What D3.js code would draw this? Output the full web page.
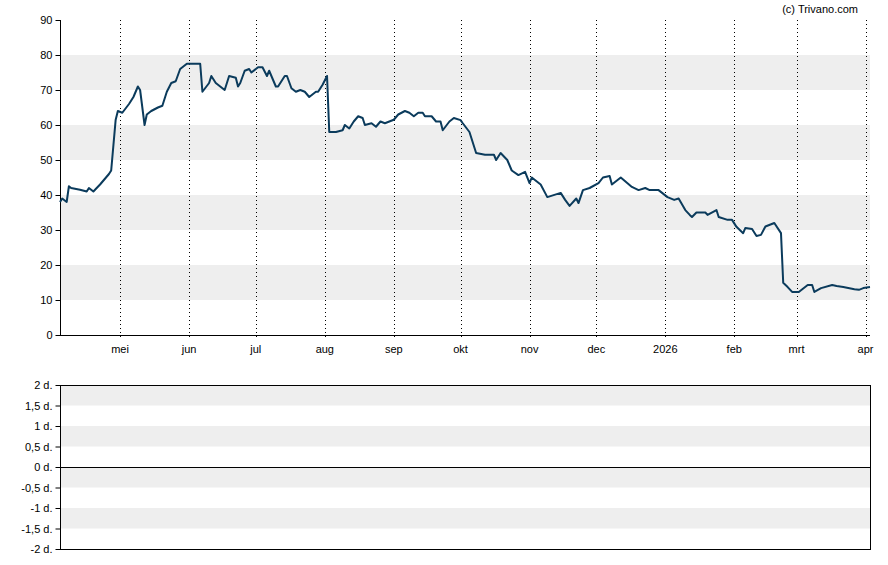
<!DOCTYPE html>
<html>
<head>
<meta charset="utf-8">
<script src="https://cdn.jsdelivr.net/npm/d3@7"></script>
<style>
body { margin: 0; background: #fff; }
text { font-family: "Liberation Sans", Arial, sans-serif; font-size: 11px; fill: #000; }
</style>
</head>
<body>
<svg id="chart" width="888" height="565"></svg>
<script>
// price series: day offset from 2025-04-04, closing value
var startDate = new Date(2025, 3, 4);
var days = [0,1,3,4,5,9,12,13,15,18,20,22,23,25,26,28,31,33,35,36,38,39,41,44,46,48,50,52,54,57,63,64,67,68,70,74,76,79,80,81,83,85,86,89,91,93,94,97,98,101,102,104,106,108,110,112,115,116,118,120,121,124,127,128,130,132,134,136,137,140,142,144,146,150,152,155,157,159,161,163,164,167,169,171,172,175,177,180,181,184,187,191,195,196,198,201,203,206,209,211,212,216,219,225,227,229,232,233,235,238,242,244,247,248,252,257,260,263,265,269,273,276,278,281,283,284,286,290,291,295,296,300,302,304,307,308,311,313,315,317,321,324,325,327,329,332,336,338,339,342,347,349,352,357,359,361,364];
var values = [38,39,38,42.5,42,41.5,41,42,41,43,44.5,46,47,61.4,64,63.5,66,68,71,70,60,63,64,65,65.5,69.5,72,72.5,76,77.5,77.5,69.5,72,74,72,70,74,73.5,71,72,75.5,76,75,76.5,76.5,74,75.5,71,71,74,74,70.5,69.5,70,69.5,68,69.5,69.5,71.5,74,58,58,58.5,60,59,61,62.5,62,60,60.5,59.5,61,60.5,61.5,63,64,63.5,62.5,63.5,63.5,62.5,62.5,61,61,58.5,61,62,61.4,60.5,58,52,51.5,51.5,50,52,50,47,45.7,46.6,43.4,45,43,39.4,40.6,38.6,36.9,39,37.7,41.4,42,43.4,45,45.4,43,45,42.3,41.4,42,41.4,41.4,39.4,38.6,39,35.7,34.3,33.7,35,35,34.3,35.7,33.7,32.9,32.9,30.9,29.1,30.6,30.3,28.3,28.6,31,32,29.1,14.9,13.7,12.3,12.3,14.3,14.3,12.3,13.4,14.3,14,13.7,13.1,12.9,13.4,13.7];
var monthTicks = ["2025-05-01","2025-06-01","2025-07-01","2025-08-01","2025-09-01","2025-10-01","2025-11-01","2025-12-01","2026-01-01","2026-02-01","2026-03-01","2026-04-01"];
var monthLabels = ["mei","jun","jul","aug","sep","okt","nov","dec","2026","feb","mrt","apr"];
var priceTicks = [0,10,20,30,40,50,60,70,80,90];
var lowerTicks = [2,1.5,1,0.5,0,-0.5,-1,-1.5,-2];
var lowerLabels = ["2 d.","1,5 d.","1 d.","0,5 d.","0 d.","-0,5 d.","-1 d.","-1,5 d.","-2 d."];

var svg = d3.select("#chart");
var left = 60, right = 870;
var parse = d3.timeParse("%Y-%m-%d");
var x = d3.scaleTime()
	.domain([startDate, d3.timeDay.offset(startDate, 364)])
	.range([left, right]);
var y = d3.scaleLinear().domain([0, 90]).range([335, 20]);
var y2 = d3.scaleLinear().domain([-2, 2]).range([549, 385]);

var data = days.map(function(d, i) {
	return { date: d3.timeDay.offset(startDate, d), value: values[i] };
});

// grey bands
[10, 30, 50, 70].forEach(function(v) {
	svg.append("rect").attr("x", left).attr("width", right - left)
		.attr("y", y(v + 10)).attr("height", y(v) - y(v + 10)).attr("fill", "#eeeeee");
});
[1.5, 0.5, -0.5, -1.5].forEach(function(v) {
	svg.append("rect").attr("x", left).attr("width", right - left)
		.attr("y", y2(v + 0.5)).attr("height", y2(v) - y2(v + 0.5)).attr("fill", "#eeeeee");
});

// vertical month grid
monthTicks.forEach(function(t) {
	var xx = Math.round(x(parse(t))) + 0.5;
	svg.append("line").attr("x1", xx).attr("x2", xx).attr("y1", 20).attr("y2", 340)
		.attr("stroke", "#000").attr("stroke-dasharray", "1,3");
});

// axes
var yAxis = svg.append("g").attr("transform", "translate(" + (left + 0.5) + ",0)")
	.call(d3.axisLeft(y).tickValues(priceTicks).tickSize(5).tickPadding(3));
yAxis.select(".domain").attr("d", "M0," + y(90) + "V" + y(0));
svg.append("line").attr("x1", left).attr("x2", right).attr("y1", 335.5).attr("y2", 335.5).attr("stroke", "#000");
monthTicks.forEach(function(t, i) {
	svg.append("text").attr("x", x(parse(t))).attr("y", 353).attr("text-anchor", "middle").text(monthLabels[i]);
});

var y2Axis = svg.append("g").attr("transform", "translate(" + (left + 0.5) + ",0)")
	.call(d3.axisLeft(y2).tickValues(lowerTicks).tickSize(5).tickPadding(3)
		.tickFormat(function(d, i) { return lowerLabels[i]; }));
y2Axis.select(".domain").remove();
svg.append("rect").attr("x", left + 0.5).attr("y", 385.5).attr("width", right - left).attr("height", 164)
	.attr("fill", "none").attr("stroke", "#000");
svg.append("line").attr("x1", left).attr("x2", right).attr("y1", Math.round(y2(0)) + 0.5).attr("y2", Math.round(y2(0)) + 0.5).attr("stroke", "#000");
svg.selectAll(".tick text").style("font-size", "11px");

// price line
svg.append("path").datum(data)
	.attr("fill", "none").attr("stroke", "#0b3b5c").attr("stroke-width", 2).attr("stroke-linejoin", "round")
	.attr("d", d3.line().x(function(d) { return x(d.date); }).y(function(d) { return y(d.value); }));

svg.append("text").attr("x", 858).attr("y", 13).attr("text-anchor", "end").text("(c) Trivano.com");
</script>
</body>
</html>
